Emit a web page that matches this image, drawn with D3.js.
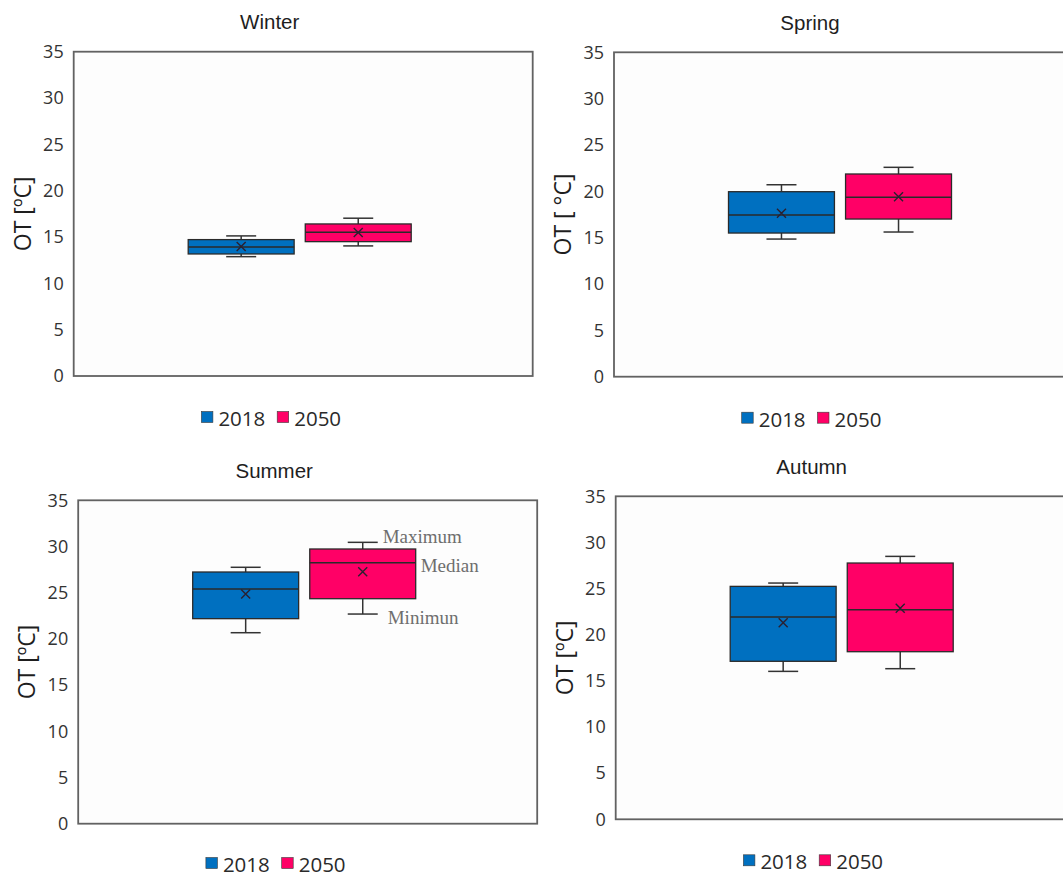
<!DOCTYPE html>
<html>
<head>
<meta charset="utf-8">
<script src="https://cdn.jsdelivr.net/npm/d3@7"></script>
<style>
  body { margin: 0; background: #ffffff; }
  svg { display: block; }
</style>
</head>
<body>
<svg id="chart" width="1063" height="877"></svg>
<script>
// Seasons (one panel each) and the two compared years
const seasons = ["Winter", "Spring", "Summer", "Autumn"];
const years = ["2018", "2050"];
const yTicks = [0, 5, 10, 15, 20, 25, 30, 35];
const yTitles = ["OT [ºC]", "OT [ °C]", "OT [ºC]", "OT [ºC]"];

// Operative temperature statistics per season (Winter, Spring, Summer, Autumn)
const min2018    = [12.88, 14.85, 20.67, 16.03];
const q1_2018    = [13.17, 15.50, 22.19, 17.12];
const median2018 = [13.93, 17.44, 25.40, 21.92];
const q3_2018    = [14.72, 19.96, 27.24, 25.24];
const max2018    = [15.12, 20.71, 27.75, 25.60];
const mean2018   = [13.98, 17.63, 24.86, 21.30];

const min2050    = [14.04, 15.61, 22.69, 16.32];
const q1_2050    = [14.50, 17.01, 24.35, 18.16];
const median2050 = [15.52, 19.35, 28.25, 22.71];
const q3_2050    = [16.41, 21.87, 29.73, 27.77];
const max2050    = [17.03, 22.59, 30.45, 28.49];
const mean2050   = [15.48, 19.42, 27.27, 22.86];

// Callouts explaining the box parts (drawn on the Summer 2050 box)
const calloutSeason = "Summer";
const calloutYear = "2050";
const calloutLabels = ["Maximum", "Median", "Minimun"];
const calloutStats = ["max", "median", "min"];

const stats = {
  "2018": { min: min2018, q1: q1_2018, median: median2018, q3: q3_2018, max: max2018, mean: mean2018 },
  "2050": { min: min2050, q1: q1_2050, median: median2050, q3: q3_2050, max: max2050, mean: mean2050 }
};

const colors = { "2018": "#0070C0", "2050": "#FF0066" };

// Panel frames (plot-area placement inside the figure)
const frames = [
  { left: 73.7,  top: 51.7,  bottom: 376.0 },
  { left: 614.0, top: 52.3,  bottom: 376.7 },
  { left: 78.2,  top: 500.3, bottom: 823.7 },
  { left: 615.7, top: 496.3, bottom: 819.3 }
];
const plotW = 459;

const svg = d3.select("#chart");

seasons.forEach((season, si) => {
  const f = frames[si];
  const g = svg.append("g").attr("class", "panel");

  const y = d3.scaleLinear().domain([0, 35]).range([f.bottom, f.top]);
  const x = d3.scaleBand().domain(years)
    .range([f.left + 114.5, f.left + 337.5])
    .paddingInner(0.095);
  const bw = x.bandwidth();

  // plot area
  g.append("rect")
    .attr("x", f.left).attr("y", f.top)
    .attr("width", plotW).attr("height", f.bottom - f.top)
    .attr("fill", "#fdfdfd")
    .attr("stroke", "#626262")
    .attr("stroke-width", 1.8);

  // y axis labels
  const axis = g.append("g")
    .attr("transform", `translate(${f.left},0)`)
    .call(d3.axisLeft(y).tickValues(yTicks).tickSize(0).tickPadding(10));
  axis.select(".domain").remove();
  axis.selectAll("text")
    .attr("font-family", "'Open Sans', sans-serif")
    .attr("font-size", 18)
    .attr("fill", "#333");

  // panel title
  g.append("text")
    .attr("x", f.left + 196).attr("y", f.top - 30)
    .attr("text-anchor", "middle").attr("dominant-baseline", "central")
    .attr("font-family", "'Liberation Sans', Arial, sans-serif")
    .attr("font-size", 20.5)
    .attr("fill", "#1e1e1e")
    .text(season);

  // y axis title
  g.append("text")
    .attr("transform", `translate(${f.left - 52},${(f.top + f.bottom) / 2}) rotate(-90)`)
    .attr("text-anchor", "middle").attr("dominant-baseline", "central")
    .attr("font-family", "'Open Sans', sans-serif")
    .attr("font-size", 23)
    .attr("fill", "#1e1e1e")
    .text(yTitles[si]);

  // box plots
  years.forEach(yr => {
    const s = stats[yr];
    const x0 = x(yr), cx = x0 + bw / 2;
    const v = k => s[k][si];
    const capW = 30;
    const whisk = g.append("g").attr("stroke", "#333").attr("stroke-width", 1.5);
    whisk.append("line").attr("x1", cx).attr("x2", cx).attr("y1", y(v("q3"))).attr("y2", y(v("max")));
    whisk.append("line").attr("x1", cx).attr("x2", cx).attr("y1", y(v("q1"))).attr("y2", y(v("min")));
    whisk.append("line").attr("x1", cx - capW / 2).attr("x2", cx + capW / 2).attr("y1", y(v("max"))).attr("y2", y(v("max")));
    whisk.append("line").attr("x1", cx - capW / 2).attr("x2", cx + capW / 2).attr("y1", y(v("min"))).attr("y2", y(v("min")));

    g.append("rect")
      .attr("x", x0).attr("y", y(v("q3")))
      .attr("width", bw).attr("height", y(v("q1")) - y(v("q3")))
      .attr("fill", colors[yr])
      .attr("stroke", "#2a2a2a").attr("stroke-width", 1.3);

    g.append("line")
      .attr("x1", x0).attr("x2", x0 + bw)
      .attr("y1", y(v("median"))).attr("y2", y(v("median")))
      .attr("stroke", "#2a2a2a").attr("stroke-width", 1.5);

    const my = y(v("mean")), r = 4.5;
    g.append("path")
      .attr("d", `M${cx - r},${my - r}L${cx + r},${my + r}M${cx - r},${my + r}L${cx + r},${my - r}`)
      .attr("stroke", "#2a2030").attr("stroke-width", 1.4).attr("fill", "none");

    if (season === calloutSeason && yr === calloutYear) {
      calloutLabels.forEach((lab, li) => {
        const k = calloutStats[li];
        let tx, ty;
        if (k === "max") { tx = cx + capW / 2 + 5; ty = y(v(k)) - 6; }
        else if (k === "median") { tx = x0 + bw + 5; ty = y(v(k)) + 3; }
        else { tx = cx + capW / 2 + 10; ty = y(v(k)) + 3; }
        g.append("text")
          .attr("x", tx).attr("y", ty)
          .attr("dominant-baseline", "central")
          .attr("font-family", "'Liberation Serif', 'Times New Roman', serif")
          .attr("font-size", 19)
          .attr("fill", "#6e6e6e")
          .text(lab);
      });
    }
  });

  // legend
  const lx = f.left + 127.7, ly = Math.min(f.bottom + 42, 864);
  const offsets = { "2018": 0, "2050": 75.8 };
  years.forEach(yr => {
    const ox = lx + offsets[yr];
    g.append("rect")
      .attr("x", ox).attr("y", ly - 6.5)
      .attr("width", 11.5).attr("height", 11)
      .attr("fill", colors[yr])
      .attr("stroke", "#3a3a3a").attr("stroke-width", 0.6);
    g.append("text")
      .attr("x", ox + 17).attr("y", ly)
      .attr("dominant-baseline", "central")
      .attr("font-family", "'Open Sans', sans-serif")
      .attr("font-size", 20.5)
      .attr("fill", "#2a2a2a")
      .text(yr);
  });
});
</script>
</body>
</html>
